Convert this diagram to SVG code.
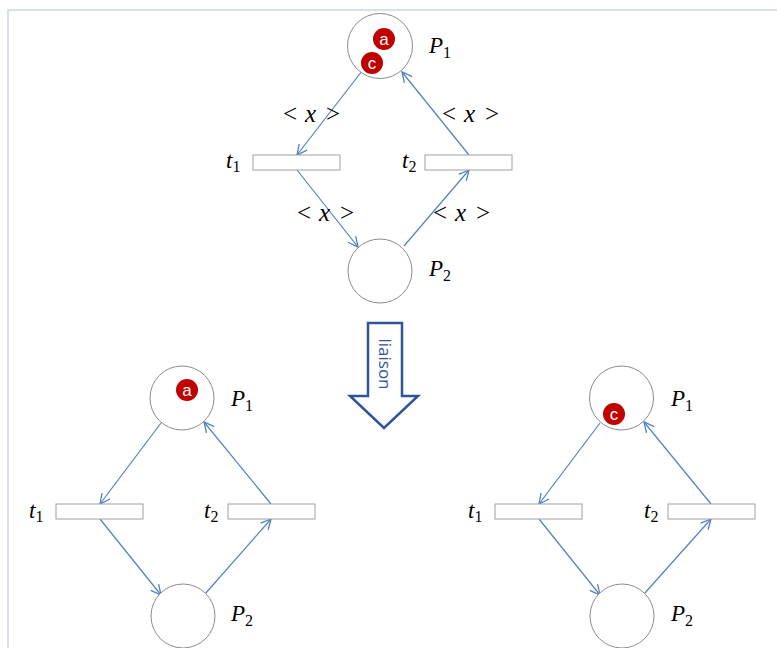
<svg xmlns="http://www.w3.org/2000/svg" width="777" height="648" viewBox="0 0 777 648">
<style>
.place{fill:#fff;stroke:#8c8c8c;stroke-width:1}
.trans{fill:#fff;stroke:#a0a0a0;stroke-width:1}
.arc{stroke:#4f81c4;stroke-width:1.2;fill:none;marker-end:url(#ah)}
.tok{fill:#c00000}
.tokt{fill:#fff;font-family:"Liberation Sans",Arial,sans-serif;font-size:17px;text-anchor:middle}
.lbl{font-family:"Liberation Serif","DejaVu Serif",serif;font-size:23px;fill:#000}
.al{font-family:"Liberation Serif","DejaVu Serif",serif;font-size:25px;fill:#000}
.it{font-style:italic}
.sub{font-size:16px}
</style>
<defs>
<marker id="ah" viewBox="0 0 12 12" refX="11" refY="6" markerWidth="12" markerHeight="12" markerUnits="userSpaceOnUse" orient="auto">
<path d="M1,1 L11,6 L1,11" fill="none" stroke="#4f81c4" stroke-width="1.3"/>
</marker>
</defs>
<rect width="777" height="648" fill="#fff"/>
<path d="M8,648 L8,10 L777,10" fill="none" stroke="#cdd6e6" stroke-width="1.5"/>

<g id="connectors">
<line class="arc" x1="362" y1="71" x2="297" y2="155"/>
<line class="arc" x1="297" y1="170" x2="358" y2="247"/>
<line class="arc" x1="404" y1="246" x2="469" y2="170"/>
<line class="arc" x1="469" y1="155" x2="402" y2="72"/>

<line class="arc" x1="161" y1="423" x2="100" y2="504"/>
<line class="arc" x1="100" y1="519" x2="161" y2="595"/>
<line class="arc" x1="205" y1="594" x2="271" y2="519"/>
<line class="arc" x1="271" y1="504" x2="204" y2="422"/>

<line class="arc" x1="600" y1="423" x2="539" y2="504"/>
<line class="arc" x1="539" y1="519" x2="600" y2="595"/>
<line class="arc" x1="644" y1="594" x2="711" y2="519"/>
<line class="arc" x1="711" y1="504" x2="644" y2="422"/>
</g>

<g id="arclabels" class="al">
<text y="122"><tspan x="283">&lt;</tspan><tspan class="it" x="305">x</tspan><tspan x="326">&gt;</tspan></text>
<text y="122"><tspan x="442">&lt;</tspan><tspan class="it" x="464">x</tspan><tspan x="485">&gt;</tspan></text>
<text y="221"><tspan x="297">&lt;</tspan><tspan class="it" x="319">x</tspan><tspan x="340">&gt;</tspan></text>
<text y="221"><tspan x="433">&lt;</tspan><tspan class="it" x="455">x</tspan><tspan x="476">&gt;</tspan></text>
</g>

<g id="top-P1">
<circle class="place" cx="380" cy="46" r="32.5"/>
<circle class="tok" cx="384" cy="39" r="11"/>
<text class="tokt" x="384" y="45">a</text>
<circle class="tok" cx="372" cy="63" r="11"/>
<text class="tokt" x="372" y="69">c</text>
<text class="lbl" x="429" y="53"><tspan class="it">P</tspan><tspan class="sub" dy="5">1</tspan></text>
</g>
<g id="top-t1">
<rect class="trans" x="253" y="155" width="87" height="15"/>
<text class="lbl" x="226" y="168"><tspan class="it">t</tspan><tspan class="sub" dy="4">1</tspan></text>
</g>
<g id="top-t2">
<rect class="trans" x="425" y="155" width="87" height="15"/>
<text class="lbl" x="402" y="168"><tspan class="it">t</tspan><tspan class="sub" dy="4">2</tspan></text>
</g>
<g id="top-P2">
<circle class="place" cx="380" cy="271" r="32"/>
<text class="lbl" x="429" y="276"><tspan class="it">P</tspan><tspan class="sub" dy="5">2</tspan></text>
</g>

<g id="liaison">
<path d="M368,323 L402,323 L402,396 L418,396 L384,428 L350,396 L368,396 Z" fill="#fff" stroke="#2f5597" stroke-width="2.5" stroke-linejoin="miter"/>
<text x="0" y="0" transform="translate(379,364) rotate(90)" text-anchor="middle" font-family="'Open Sans','Liberation Sans',sans-serif" font-size="17" fill="#2f5597">liaison</text>
</g>

<g id="left-P1">
<circle class="place" cx="182" cy="398" r="32"/>
<circle class="tok" cx="187" cy="390" r="11"/>
<text class="tokt" x="187" y="396">a</text>
<text class="lbl" x="231" y="406"><tspan class="it">P</tspan><tspan class="sub" dy="5">1</tspan></text>
</g>
<g id="left-t1">
<rect class="trans" x="56" y="504" width="87" height="15"/>
<text class="lbl" x="29" y="518"><tspan class="it">t</tspan><tspan class="sub" dy="4">1</tspan></text>
</g>
<g id="left-t2">
<rect class="trans" x="228" y="504" width="87" height="15"/>
<text class="lbl" x="204" y="518"><tspan class="it">t</tspan><tspan class="sub" dy="4">2</tspan></text>
</g>
<g id="left-P2">
<circle class="place" cx="183" cy="616" r="32"/>
<text class="lbl" x="231" y="621"><tspan class="it">P</tspan><tspan class="sub" dy="5">2</tspan></text>
</g>

<g id="right-P1">
<circle class="place" cx="621.5" cy="398" r="32"/>
<circle class="tok" cx="614" cy="414" r="11"/>
<text class="tokt" x="614" y="420">c</text>
<text class="lbl" x="671" y="406"><tspan class="it">P</tspan><tspan class="sub" dy="5">1</tspan></text>
</g>
<g id="right-t1">
<rect class="trans" x="495" y="504" width="87" height="15"/>
<text class="lbl" x="468" y="518"><tspan class="it">t</tspan><tspan class="sub" dy="4">1</tspan></text>
</g>
<g id="right-t2">
<rect class="trans" x="668" y="504" width="87" height="15"/>
<text class="lbl" x="644" y="518"><tspan class="it">t</tspan><tspan class="sub" dy="4">2</tspan></text>
</g>
<g id="right-P2">
<circle class="place" cx="622" cy="616" r="32"/>
<text class="lbl" x="671" y="621"><tspan class="it">P</tspan><tspan class="sub" dy="5">2</tspan></text>
</g>
</svg>
